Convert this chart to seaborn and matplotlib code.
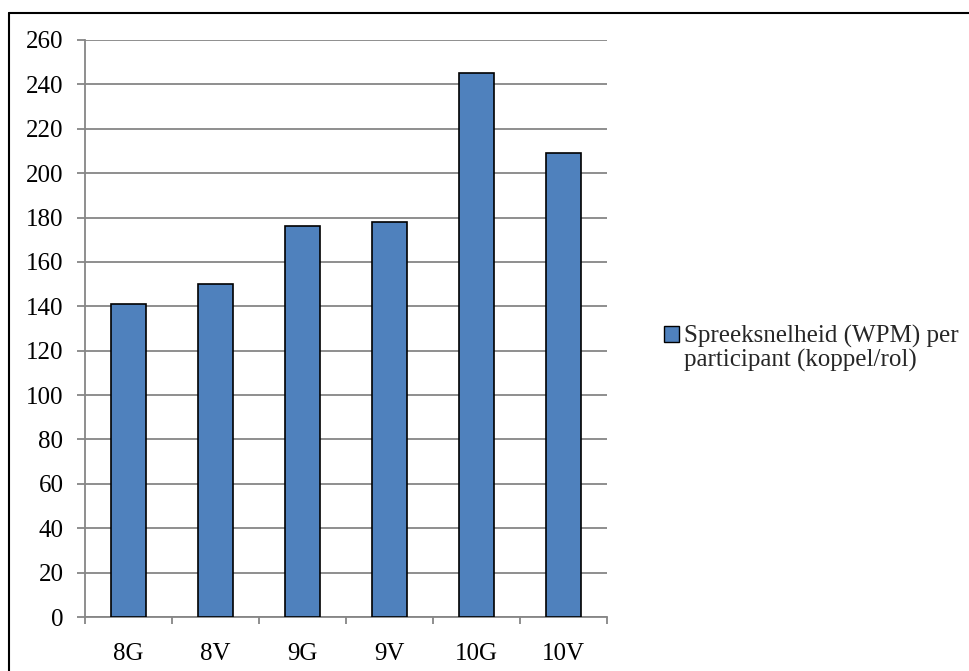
import matplotlib
matplotlib.use("Agg")
import matplotlib.pyplot as plt
import seaborn as sns
import pandas as pd
from matplotlib.lines import Line2D
from matplotlib.patches import Patch, Rectangle
from matplotlib.legend_handler import HandlerPatch

categories = ["8G", "8V", "9G", "9V", "10G", "10V"]
wpm = [141, 150, 176, 178, 245, 209]
series_label = "Spreeksnelheid (WPM) per\nparticipant (koppel/rol)"
y_ticks = list(range(0, 261, 20))

df = pd.DataFrame({"groep": categories, "wpm": wpm})

sns.set_theme(style="white")
plt.rcParams["font.family"] = ["Liberation Serif", "DejaVu Serif"]

FS = 18
fig = plt.figure(figsize=(9.7, 6.71), dpi=100)
ax = fig.add_axes([85 / 970, 1 - 617 / 671, (607 - 85) / 970, (617 - 40) / 671])

grid_c = "#868686"
bar_c = "#4F81BD"
sns.barplot(data=df, x="groep", y="wpm", ax=ax, color=bar_c,
            saturation=1, width=0.4, edgecolor="black", linewidth=1.2, zorder=3)

ax.set_ylim(0, 260)
ax.set_xlim(-0.5, len(categories) - 0.5)
ax.set_yticks(y_ticks)
ax.set_yticklabels([str(v) for v in y_ticks])
ax.set_xlabel("")
ax.set_ylabel("")
ax.yaxis.grid(True, color=grid_c, linewidth=1.3, zorder=0)
ax.set_axisbelow(True)

for side in ["top", "right"]:
    ax.spines[side].set_visible(False)
for side in ["left", "bottom"]:
    ax.spines[side].set_color(grid_c)
    ax.spines[side].set_linewidth(1.3)

# y ticks stick out to the left of the axis
ax.tick_params(axis="y", which="major", direction="out", length=5.5, width=1.3,
               color=grid_c, pad=10, labelsize=FS, labelcolor="black", left=True)
# x tick marks sit between categories
ax.set_xticks(range(len(categories)))
ax.set_xticklabels(categories)
ax.tick_params(axis="x", which="major", length=0, pad=19, labelsize=FS,
               labelcolor="black")
ax.set_xticks([i - 0.5 for i in range(len(categories) + 1)], minor=True)
ax.tick_params(axis="x", which="minor", direction="out", length=5, width=1.3,
               color=grid_c, bottom=True)


def top_aligned_square(legend, orig_handle, xdescent, ydescent, width, height, fontsize):
    # put the key square beside the first line of the two-line label
    return Rectangle((-xdescent, -ydescent + 0.55 * fontsize), width, height)


handle = Patch(facecolor=bar_c, edgecolor="black", linewidth=1.0)
leg = fig.legend([handle], [series_label], loc="center left",
                 bbox_to_anchor=(664 / 970, 1 - 348 / 671), frameon=False,
                 fontsize=FS, handlelength=0.6, handleheight=0.6,
                 handletextpad=0.2, borderpad=0, borderaxespad=0,
                 handler_map={Patch: HandlerPatch(patch_func=top_aligned_square)})
for t in leg.get_texts():
    t.set_linespacing(1.05)

# chart frame (top and left edges)
fig.add_artist(Line2D([9 / 970, 9 / 970], [0, 1 - 12.5 / 671],
                      transform=fig.transFigure, color="black", linewidth=1.5))
fig.add_artist(Line2D([9 / 970, 1], [1 - 12.5 / 671, 1 - 12.5 / 671],
                      transform=fig.transFigure, color="black", linewidth=1.5))

fig.savefig("out.png", dpi=100, facecolor="white")
